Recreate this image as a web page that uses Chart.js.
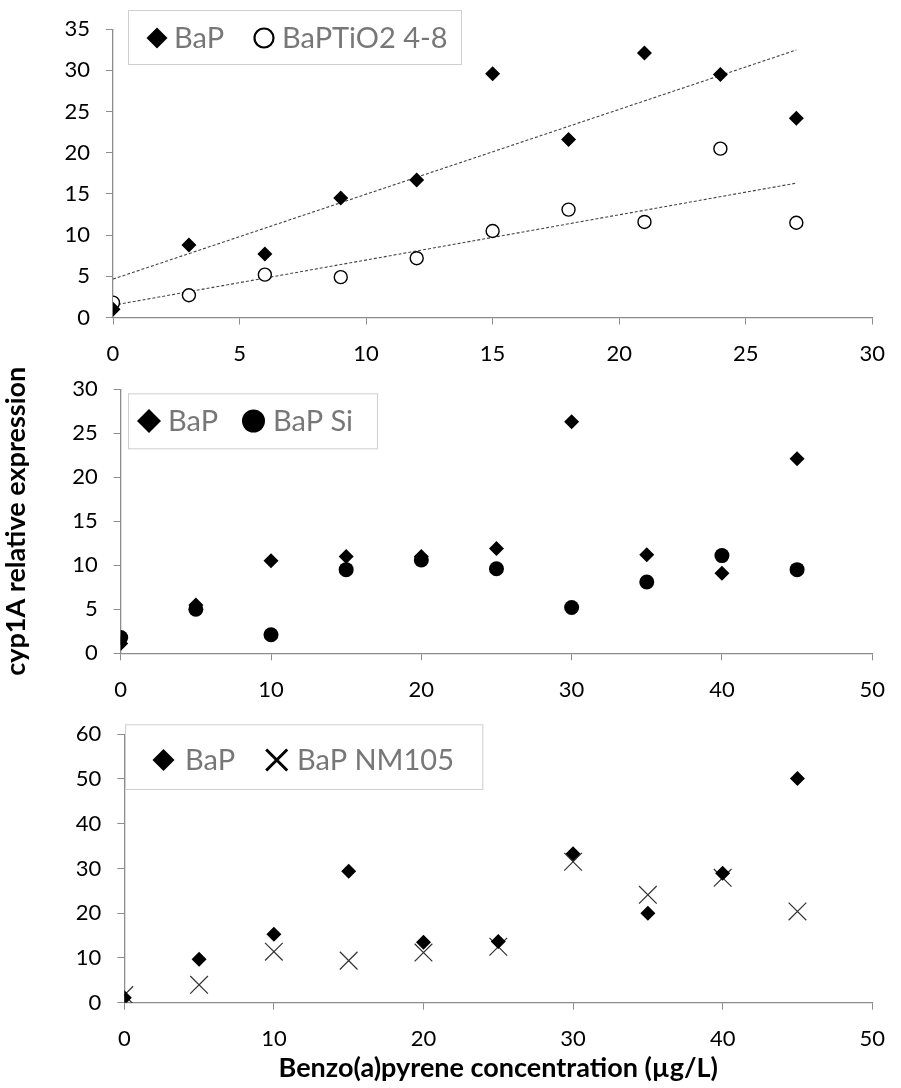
<!DOCTYPE html>
<html>
<head>
<meta charset="utf-8">
<script src="https://cdn.jsdelivr.net/npm/chart.js@4.4.0/dist/chart.umd.min.js"></script>
<style>
  body { margin: 0; background: #fff; width: 901px; height: 1088px; position: relative; overflow: hidden; }
  canvas { position: absolute; left: 0; }
</style>
</head>
<body>
<canvas id="tio2Chart" width="901" height="370" style="top:0"></canvas>
<canvas id="siChart" width="901" height="345" style="top:360px"></canvas>
<canvas id="nmChart" width="901" height="383" style="top:705px"></canvas>
<script>
// exposure concentrations (µg/L)
const tio2Conc = [0, 3, 6, 9, 12, 15, 18, 21, 24, 27];
const siConc = [0, 5, 10, 15, 20, 25, 30, 35, 40, 45];
const nmConc = [0, 5, 10, 15, 20, 25, 30, 35, 40, 45];

// cyp1A relative expression
const tio2BaP = [1.0, 8.8, 7.7, 14.5, 16.7, 29.6, 21.6, 32.1, 29.5, 24.2];
const tio2Mix = [1.8, 2.7, 5.2, 4.9, 7.2, 10.5, 13.1, 11.6, 20.5, 11.5];
const siBaP = [1.1, 5.5, 10.5, 11.0, 11.0, 11.9, 26.3, 11.2, 9.1, 22.1];
const siMix = [1.8, 5.0, 2.1, 9.5, 10.6, 9.6, 5.2, 8.1, 11.1, 9.5];
const nmBaP = [1.1, 9.7, 15.3, 29.4, 13.5, 13.7, 33.3, 20.0, 28.9, 50.1];
const nmMix = [1.7, 4.0, 11.4, 9.4, 11.2, 12.5, 31.5, 24.1, 27.9, 20.4];

const legendLabels = {
  tio2: ['BaP', 'BaPTiO2 4-8'],
  si: ['BaP', 'BaP Si'],
  nm: ['BaP', 'BaP NM105']
};

const axisColor = '#8c8c8c';
const tickFont = { family: 'Lato', size: 22 };
const titleFont = { family: 'Lato', size: 27, weight: 'bold' };

Chart.defaults.font.family = 'Lato';
Chart.defaults.color = '#000';

function toPoints(xs, ys) {
  return xs.map((x, i) => ({ x: x, y: ys[i] }));
}

// least-squares trend line through a series, spanning its x range
function trendLine(xs, ys) {
  const n = xs.length;
  const mx = xs.reduce((a, b) => a + b, 0) / n;
  const my = ys.reduce((a, b) => a + b, 0) / n;
  let sxy = 0, sxx = 0;
  for (let i = 0; i < n; i++) {
    sxy += (xs[i] - mx) * (ys[i] - my);
    sxx += (xs[i] - mx) * (xs[i] - mx);
  }
  const slope = sxy / sxx;
  const icpt = my - slope * mx;
  return [xs[0], xs[n - 1]].map(x => ({ x: x, y: icpt + slope * x }));
}

function drawMarker(ctx, m, x, y) {
  ctx.save();
  ctx.beginPath();
  if (m.shape === 'diamond') {
    ctx.moveTo(x - m.r, y);
    ctx.lineTo(x, y - m.r);
    ctx.lineTo(x + m.r, y);
    ctx.lineTo(x, y + m.r);
    ctx.closePath();
    ctx.fillStyle = '#000';
    ctx.fill();
  } else if (m.shape === 'circle') {
    ctx.arc(x, y, m.r, 0, Math.PI * 2);
    if (m.filled) {
      ctx.fillStyle = '#000';
      ctx.fill();
    } else {
      ctx.lineWidth = 2.2;
      ctx.strokeStyle = '#000';
      ctx.stroke();
    }
  } else if (m.shape === 'cross') {
    ctx.moveTo(x - m.r, y - m.r);
    ctx.lineTo(x + m.r, y + m.r);
    ctx.moveTo(x - m.r, y + m.r);
    ctx.lineTo(x + m.r, y - m.r);
    ctx.lineWidth = 3;
    ctx.strokeStyle = '#000';
    ctx.stroke();
  }
  ctx.restore();
}

// framed legend drawn inside the plot
const boxLegend = {
  id: 'boxLegend',
  afterDraw(chart, args, opts) {
    const ctx = chart.ctx;
    const b = opts.box;
    ctx.save();
    ctx.fillStyle = '#fff';
    ctx.fillRect(b.left, b.top, b.right - b.left, b.bottom - b.top);
    ctx.strokeStyle = '#cfcfcf';
    ctx.lineWidth = 1;
    ctx.strokeRect(b.left + 0.5, b.top + 0.5, b.right - b.left, b.bottom - b.top);
    ctx.font = '29px Lato';
    ctx.textBaseline = 'middle';
    opts.items.forEach((it, i) => {
      drawMarker(ctx, it, it.cx, opts.cy);
      ctx.fillStyle = '#777';
      ctx.fillText(opts.labels[i], it.tx, opts.cy + 1);
    });
    ctx.restore();
  }
};

function linearAxis(min, max, step, extra) {
  return Object.assign({
    type: 'linear',
    min: min,
    max: max,
    ticks: { stepSize: step, font: tickFont, color: '#000', padding: 16 },
    grid: { drawOnChartArea: false, drawTicks: true, tickLength: 7, color: axisColor },
    border: { display: true, color: axisColor, width: 1.3 }
  }, extra || {});
}

function makeChart(id, cfg) {
  const datasets = [
    {
      data: toPoints(cfg.xs, cfg.bap),
      pointStyle: 'rectRot',
      pointRadius: 7.5,
      backgroundColor: '#000',
      borderColor: '#000',
      borderWidth: 0
    },
    cfg.mixSet
  ].concat(cfg.extra || []);

  return new Chart(document.getElementById(id), {
    type: 'scatter',
    data: { datasets: datasets },
    options: {
      responsive: false,
      animation: false,
      devicePixelRatio: 1,
      layout: { padding: cfg.padding },
      plugins: {
        legend: { display: false },
        tooltip: { enabled: false },
        boxLegend: cfg.legend
      },
      scales: {
        x: linearAxis(0, cfg.xMax, cfg.xStep, {
          afterFit: s => { s.height = cfg.xHeight; },
          title: cfg.xTitle || { display: false }
        }),
        y: linearAxis(0, cfg.yMax, cfg.yStep, {
          afterFit: s => { s.width = cfg.yWidth; },
          title: cfg.yTitle || { display: false }
        })
      }
    },
    plugins: [boxLegend]
  });
}

const trendStyle = {
  showLine: true,
  pointRadius: 0,
  borderColor: '#444',
  borderWidth: 1.1,
  borderDash: [3, 2]
};

// BaP vs BaP + TiO2 4-8, with linear trends
makeChart('tio2Chart', {
  xs: tio2Conc,
  bap: tio2BaP,
  mixSet: {
    data: toPoints(tio2Conc, tio2Mix),
    pointStyle: 'circle',
    pointRadius: 6.5,
    backgroundColor: '#fff',
    borderColor: '#000',
    borderWidth: 1.4
  },
  extra: [
    Object.assign({ data: trendLine(tio2Conc, tio2BaP) }, trendStyle),
    Object.assign({ data: trendLine(tio2Conc, tio2Mix) }, trendStyle)
  ],
  xMax: 30, xStep: 5, yMax: 35, yStep: 5,
  padding: { top: 26, right: 28, bottom: 0, left: 0 },
  yWidth: 113, xHeight: 52.5,
  legend: {
    box: { left: 128, top: 10, right: 461, bottom: 64 },
    cy: 38,
    labels: legendLabels.tio2,
    items: [
      { shape: 'diamond', r: 10.5, cx: 157, tx: 174 },
      { shape: 'circle', r: 9.5, cx: 264, tx: 282, filled: false }
    ]
  }
});

// BaP vs BaP + Si
makeChart('siChart', {
  xs: siConc,
  bap: siBaP,
  mixSet: {
    data: toPoints(siConc, siMix),
    pointStyle: 'circle',
    pointRadius: 7.5,
    backgroundColor: '#000',
    borderColor: '#000',
    borderWidth: 0
  },
  xMax: 50, xStep: 10, yMax: 30, yStep: 5,
  padding: { top: 13.3, right: 21.7, bottom: 0, left: 0 },
  yWidth: 120.7, xHeight: 51.7,
  yTitle: {
    display: true,
    text: 'cyp1A relative expression',
    font: titleFont,
    color: '#000',
    padding: { top: 0, bottom: 0 }
  },
  legend: {
    box: { left: 128, top: 33.3, right: 377, bottom: 88.3 },
    cy: 61,
    labels: legendLabels.si,
    items: [
      { shape: 'diamond', r: 12, cx: 149, tx: 168 },
      { shape: 'circle', r: 11.5, cx: 253.5, tx: 273, filled: true }
    ]
  }
});

// BaP vs BaP + NM105
makeChart('nmChart', {
  xs: nmConc,
  bap: nmBaP,
  mixSet: {
    data: toPoints(nmConc, nmMix),
    pointStyle: 'crossRot',
    pointRadius: 12.5,
    backgroundColor: '#333',
    borderColor: '#333',
    borderWidth: 1.2
  },
  xMax: 50, xStep: 10, yMax: 60, yStep: 10,
  padding: { top: 20, right: 15, bottom: 0, left: 0 },
  yWidth: 124.3, xHeight: 85.3,
  xTitle: {
    display: true,
    text: 'Benzo(a)pyrene concentration (µg/L)',
    font: titleFont,
    color: '#000',
    padding: { top: 0, bottom: 4 }
  },
  legend: {
    box: { left: 125, top: 19.3, right: 482.3, bottom: 84 },
    cy: 55,
    labels: legendLabels.nm,
    items: [
      { shape: 'diamond', r: 11, cx: 163.5, tx: 185 },
      { shape: 'cross', r: 10.5, cx: 276.7, tx: 297 }
    ]
  }
});
</script>
</body>
</html>
